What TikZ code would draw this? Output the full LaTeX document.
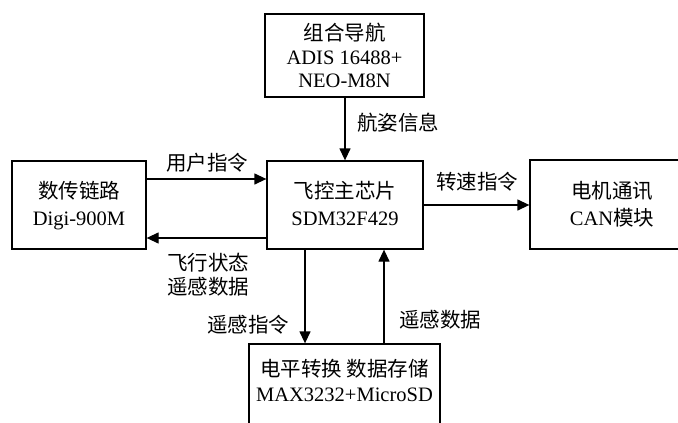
\documentclass[tikz,border=0pt]{standalone}
\usepackage{fontspec}
\setmainfont{Liberation Serif}
\newfontfamily\cjk{Noto Sans CJK SC}
\usetikzlibrary{arrows.meta}
\begin{document}
\begin{tikzpicture}[x=1pt,y=-1pt,
  box/.style={draw,line width=1.3pt,minimum width=#1,inner sep=0pt},
  lbl/.style={anchor=base,inner sep=0pt,font=\fontsize{20.5pt}{24pt}\selectfont},
  arr/.style={line width=1.3pt,-{Triangle[length=12pt,width=11pt]}}]
\useasboundingbox (0,0) rectangle (678,423);
\clip (0,0) rectangle (678,423);
% boxes
\node[box=159pt,minimum height=83pt] (top) at (344.5,55.5) {};
\node[box=156pt,minimum height=88pt] (ctr) at (345,205) {};
\node[box=134pt,minimum height=88pt] (lft) at (79,205) {};
\node[box=164pt,minimum height=89pt] (rgt) at (612,204.5) {};
\node[box=191pt,minimum height=86pt] (bot) at (344.5,387) {};
% box texts
\node[lbl] (t1) at (344.5,40) {\cjk 组合导航};
\node[lbl] (t2) at (344.5,64.3) {ADIS 16488+};
\node[lbl] (t3) at (344.5,87.7) {NEO-M8N};
\node[lbl] (c1) at (345,198.5) {\cjk 飞控主芯片};
\node[lbl] (c2) at (345,225) {SDM32F429};
\node[lbl] (l1) at (79,198.5) {\cjk 数传链路};
\node[lbl] (l2) at (79,225) {Digi-900M};
\node[lbl] (r1) at (612,198.5) {\cjk 电机通讯};
\node[lbl] (r2) at (612,225) {CAN{\cjk 模块}};
\node[lbl] (b1) at (344.5,376.5) {\cjk 电平转换 数据存储};
\node[lbl] (b2) at (344.5,401.7) {MAX3232+MicroSD};
% connector labels
\node[lbl] (e1) at (398,130.5) {\cjk 航姿信息};
\node[lbl] (e2) at (207,170.5) {\cjk 用户指令};
\node[lbl] (e3) at (477,189.5) {\cjk 转速指令};
\node[lbl] (e4) at (208,270.5) {\cjk 飞行状态};
\node[lbl] (e5) at (208,294.5) {\cjk 遥感数据};
\node[lbl] (e6) at (248,332.5) {\cjk 遥感指令};
\node[lbl] (e7) at (440,327.5) {\cjk 遥感数据};
% connector coordinates
\coordinate (ya) at (0,179);
\coordinate (yb) at (0,238);
\coordinate (xa) at (305,0);
\coordinate (xb) at (384,0);
% connectors
\draw[arr] (top.south -| ctr.north) -- (ctr.north);
\draw[arr] (lft.east |- ya) -- (ctr.west |- ya);
\draw[arr] (ctr.west |- yb) -- (lft.east |- yb);
\draw[arr] (ctr.east) -- (ctr.east -| rgt.west);
\draw[arr] (ctr.south -| xa) -- (bot.north -| xa);
\draw[arr] (bot.north -| xb) -- (ctr.south -| xb);
\end{tikzpicture}
\end{document}
